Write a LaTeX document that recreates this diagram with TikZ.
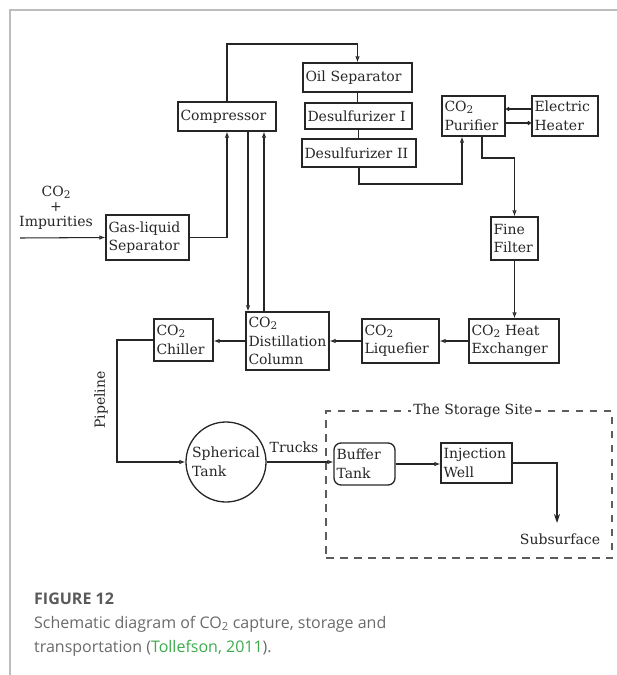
\documentclass[tikz,border=0pt]{standalone}
\usepackage{fontspec}
\setmainfont{DejaVu Serif}
\newfontfamily\capfont{Open Sans}
\usetikzlibrary{arrows.meta}

% CO2 with a small lowered 2, as used inside the boxes
\newcommand{\cotwo}{CO\raisebox{-0.25ex}{\fontsize{10.5}{10.5}\selectfont 2}}

\definecolor{ink}{HTML}{262626}
\definecolor{framegray}{HTML}{BDBDBD}
\definecolor{capgray}{HTML}{6A6A6A}
\definecolor{capdark}{HTML}{5A5A5A}
\definecolor{citegreen}{HTML}{3DAA4C}

\tikzset{
  bx/.style={draw=ink, line width=1.3pt, inner xsep=2.5pt, inner ysep=0pt,
             align=left, font=\fontsize{14}{18.5}\selectfont, text=ink},
  lbl/.style={inner sep=1pt, font=\fontsize{14}{15}\selectfont, text=ink},
  flow/.style={draw=ink, line width=1.05pt},
  arr/.style={flow, -{Latex[open, length=6pt, width=4.5pt]}},
  tinyarr/.style={flow, -{Straight Barb[length=2.5pt, width=3.5pt]}},
  bigarr/.style={draw=ink, line width=1.3pt, -{Stealth[length=9pt, width=6pt]}},
  sitebox/.style={draw=ink!75, line width=1.3pt, dash pattern=on 7.5pt off 6.5pt},
}

\begin{document}
\begin{tikzpicture}[x=1pt, y=-1pt]
\useasboundingbox (0,0) rectangle (617,675);

% page frame
\draw[framegray, line width=1.3pt] (10,675) -- (10,10) -- (617,10);

% process boxes
\node[bx, text width=93pt, minimum height=29pt] (comp) at (227,116.5) {Compressor};
\node[bx, text width=78pt, minimum height=45pt] (gls) at (147.5,237.5) {Gas-liquid\\Separator};
\node[bx, text width=104pt, minimum height=29pt] (oil) at (357.5,77.5) {Oil Separator};
\node[bx, text width=102pt, minimum height=26pt] (des1) at (358.5,116) {Desulfurizer I};
\node[bx, text width=109pt, minimum height=28pt] (des2) at (359,153) {Desulfurizer II};
\node[bx, text width=58pt, minimum height=40pt] (pur) at (473.5,116) {\cotwo\\Purifier};
\node[bx, text width=61pt, minimum height=40pt] (heat) at (565,116) {Electric\\Heater};
\node[bx, text width=42pt, minimum height=43pt] (ff) at (514.5,238.5) {Fine\\Filter};
\node[bx, text width=85pt, minimum height=44pt] (hx) at (514,341) {\cotwo{} Heat\\Exchanger};
\node[bx, text width=72pt, minimum height=44pt] (liq) at (400.5,341) {\cotwo\\Liquefier};
\node[bx, text width=78pt, minimum height=58pt] (dist) at (287.5,341) {\cotwo\\Distillation\\Column};
\node[bx, text width=54pt, minimum height=42pt] (chill) at (183.5,340) {\cotwo\\Chiller};
\node[bx, circle, minimum size=80pt, inner sep=0pt] (tank) at (226,462) {Spherical\\Tank};
\node[bx, rounded corners=7pt, text width=56pt, minimum height=42pt] (buf) at (364.5,464) {Buffer\\Tank};
\node[bx, text width=66pt, minimum height=40pt] (inj) at (476.5,463) {Injection\\Well};

% storage site enclosure
\node[sitebox, minimum width=286pt, minimum height=147pt, inner sep=0pt] (site) at (469,484.5) {};
\node[lbl, fill=white, inner xsep=2pt] (sitelbl) at ([xshift=4pt]site.north) {The Storage Site};

% free labels
\node[lbl, align=center] (feed) at (56,208) {\cotwo\\+\\Impurities};
\node[lbl, rotate=90] (pipelbl) at (101,400) {Pipeline};
\node[lbl] (trucks) at (294,447) {Trucks};
\node[lbl] (subs) at (560,539) {Subsurface};

% helper coordinates for the routed lines
\coordinate (feedin) at (20,238);
\coordinate (toprow) at (0,44);
\coordinate (d2low) at (0,184);
\coordinate (pflow) at (0,158);
\coordinate (downx) at (248,0);
\coordinate (upx) at (264,0);
\coordinate (pipex) at (117,0);
\coordinate (subtip) at (557,523);

% capture train
\draw[arr] (feedin) -- (gls.west);
\draw[arr] (gls.east) -| (comp.south);
\draw[arr] (comp.north) -- (comp.north |- toprow) -| (oil.north);
\draw[flow] (oil.south) -- (oil.south |- des1.north);
\draw[flow] (des1.south) -- (des1.south |- des2.north);
\draw[arr] (des2.south) -- (des2.south |- d2low) -| ([xshift=-11.5pt]pur.south);
\draw[tinyarr] ([yshift=7pt]heat.west) -- ([yshift=7pt]pur.east);
\draw[tinyarr] ([yshift=-7pt]pur.east) -- ([yshift=-7pt]heat.west);
\draw[arr] ([xshift=8.5pt]pur.south) -- ([xshift=8.5pt]pur.south |- pflow) -| (ff.north);
\draw[arr] (ff.south) -- (ff.south |- hx.north);
\draw[arr] (hx.west) -- (liq.east);
\draw[arr] (liq.west) -- (liq.west -| dist.east);
\draw[arr] (comp.south -| downx) -- (dist.north -| downx);
\draw[arr] (dist.north -| upx) -- (comp.south -| upx);
\draw[arr] (dist.west) -- (dist.west -| chill.east);

% transport and storage
\draw[arr] (chill.west) -- (chill.west -| pipex) |- (tank.west);
\draw[arr] (tank.east) -- (tank.east -| buf.west);
\draw[arr] (buf.east) -- (buf.east -| inj.west);
\draw[bigarr] (inj.east) -| (subtip);

% caption
\node[anchor=base west, inner sep=0pt, text=capdark,
      font=\capfont\bfseries\fontsize{16}{20}\selectfont] (capttl) at (34,604) {FIGURE 12};
\node[anchor=base west, inner sep=0pt, text=capgray, align=left,
      font=\capfont\fontsize{16}{24.5}\selectfont] (captxt) at (34,652.5)
  {Schematic diagram of CO\textsubscript{2} capture, storage and\\
   transportation (\textcolor{citegreen}{Tollefson, 2011}).};
\end{tikzpicture}
\end{document}
